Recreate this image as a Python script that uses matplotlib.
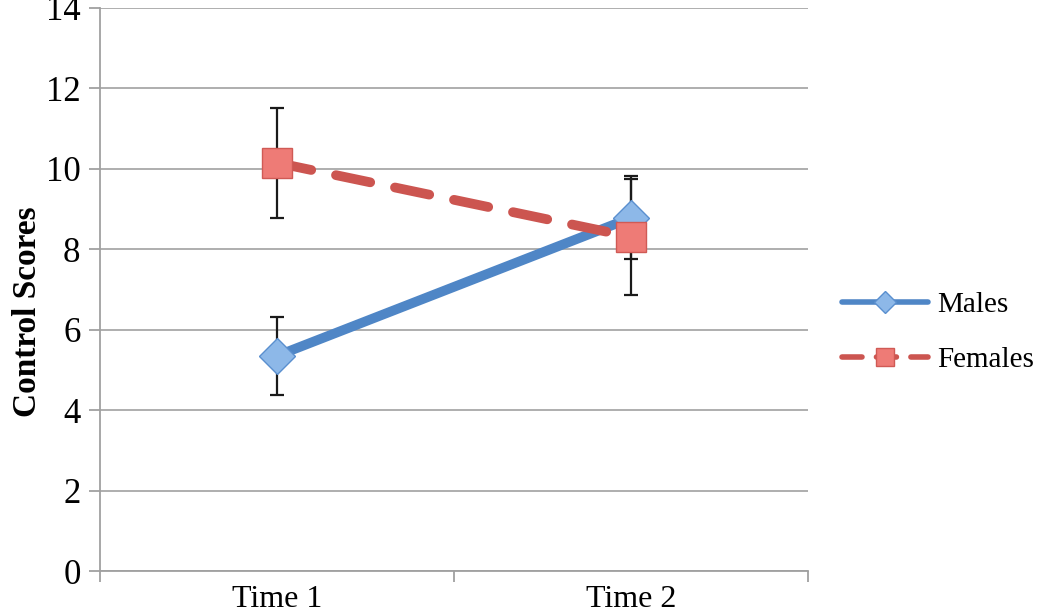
import matplotlib.pyplot as plt

# data
categories = ['Time 1', 'Time 2']
males = [5.35, 8.78]
males_err = [0.97, 1.03]
females = [10.15, 8.31]
females_err = [1.36, 1.45]

plt.rcParams['font.family'] = ['Liberation Serif', 'DejaVu Serif']

fig = plt.figure(figsize=(10.5, 6.14), dpi=100)
ax = fig.add_axes([0.0952, 0.070, 0.6743, 0.917])

x = list(range(len(categories)))

ax.errorbar(x, females, yerr=females_err, fmt='none', ecolor='#1a1a1a',
            elinewidth=1.6, capsize=5, capthick=1.6, zorder=3)
ax.errorbar(x, males, yerr=males_err, fmt='none', ecolor='#1a1a1a',
            elinewidth=1.6, capsize=5, capthick=1.6, zorder=3)

ax.plot(x, males, color='#4F86C6', lw=7, marker='D', markersize=18,
        markerfacecolor='#8DB8E8', markeredgecolor='#5A8FCF', markeredgewidth=1,
        label='Males', zorder=4, solid_capstyle='round')
ax.plot(x, females, color='#CC5550', lw=7, dashes=(3.6, 2.6), marker='s', markersize=21,
        markerfacecolor='#EE7B76', markeredgecolor='#D05A55', markeredgewidth=1,
        label='Females', zorder=5, dash_capstyle='round')

ax.set_xlim(-0.5, 1.5)
ax.set_ylim(0, 14)
ax.set_yticks(range(0, 15, 2))
ax.set_xticks(x)
ax.set_xticklabels(categories, fontsize=23)
ax.set_xticks([-0.5, 0.5, 1.5], minor=True)
ax.tick_params(axis='x', which='major', length=0, pad=10)
ax.tick_params(axis='x', which='minor', length=8, color='#a0a0a0', width=1.3, direction='out')
ax.tick_params(axis='y', labelsize=25, length=8, color='#a0a0a0', width=1.3, pad=6)

ax.grid(axis='y', color='#a8a8a8', lw=1.3)
ax.set_axisbelow(True)
for side in ['top', 'right']:
    ax.spines[side].set_visible(False)
for side in ['left', 'bottom']:
    ax.spines[side].set_color('#a0a0a0')
    ax.spines[side].set_linewidth(1.3)

ax.set_ylabel('Control Scores', fontsize=24, fontweight='bold')
ax.yaxis.set_label_coords(-0.08, 0.46)

leg = ax.legend(loc='center left', bbox_to_anchor=(1.0113, 0.424), frameon=False,
                fontsize=21, handlelength=2.95, handletextpad=0.31, labelspacing=1.0,
                markerscale=0.6)
for line in leg.get_lines():
    line.set_linewidth(4)

fig.savefig('out.png', dpi=100)
